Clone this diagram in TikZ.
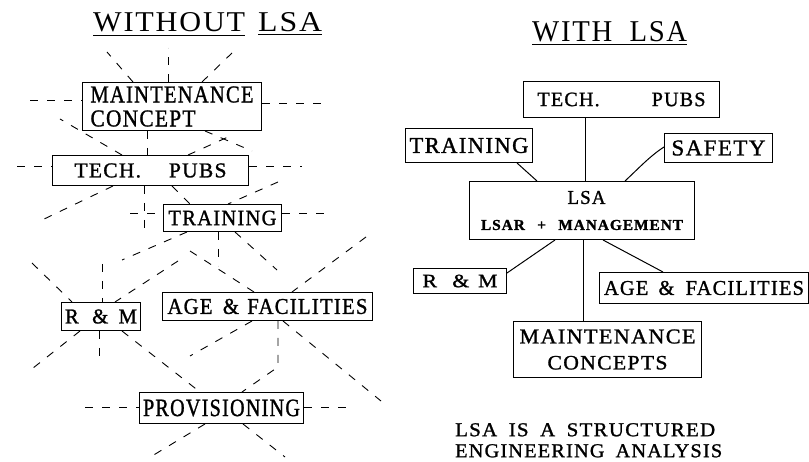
\documentclass[tikz,border=0pt]{standalone}
\usepackage{fontspec}
\usepackage{graphicx}
\newfontfamily\lblfont[LetterSpace=6, FakeBold=1.2]{Liberation Serif}
\newfontfamily\headfont[LetterSpace=6]{Liberation Serif}
% label text scaled to a given width and cap height (both in pt)
\newcommand\fitlbl[3]{\resizebox{#1pt}{#2pt}{\lblfont #3}}
\newcommand\fithead[3]{\resizebox{#1pt}{#2pt}{\headfont #3}}

\tikzset{
  box/.style={draw, line width=1pt, inner sep=0pt, anchor=north west, align=center},
  ray/.style={line width=0.9pt, dash pattern=on 8pt off 9pt},
  link/.style={line width=1pt},
  ttl/.style={inner sep=0pt, anchor=base west},
  uline/.style={line width=1pt},
}

\begin{document}
\begin{tikzpicture}[x=1pt, y=-1pt]
\fill[white] (0,0) rectangle (809,462);
\path[use as bounding box] (0,0) rectangle (809,462);

% ---------- left panel: without LSA ----------
\node[ttl] (tA) at (93,32) {\fithead{152}{19}{WITHOUT}};
\node[ttl] (tB) at (258,32) {\fithead{64}{19}{LSA}};
\draw[uline] ([yshift=-2.5pt]tA.south west) -- ([yshift=-2.5pt]tA.south east);
\draw[uline] ([yshift=-2.5pt]tB.south west) -- ([yshift=-2.5pt]tB.south east);

\node[box, minimum width=179pt, minimum height=48pt, align=left,
      font=\fontsize{20}{24}\selectfont] (mc) at (82,82)
  {\fitlbl{163}{16}{MAINTENANCE}\\\fitlbl{105}{16}{CONCEPT}};
\node[box, minimum width=196pt, minimum height=30pt] (tp1) at (52,155)
  {\fitlbl{152}{14}{TECH.\hspace{1.3em}PUBS}};
\node[box, minimum width=118pt, minimum height=27pt] (tr1) at (163,204)
  {\fitlbl{108}{14.5}{TRAINING}};
\node[box, minimum width=79pt, minimum height=28pt] (rm1) at (61,302)
  {\fitlbl{72}{14}{R\hspace{.65em}\&\hspace{.5em}M}};
\node[box, minimum width=210pt, minimum height=28pt] (af1) at (162,292)
  {\fitlbl{200}{15}{AGE\hspace{.5em}\&\hspace{.4em}FACILITIES}};
\node[box, minimum width=164pt, minimum height=31pt] (pv1) at (139,392)
  {\fitlbl{157}{16.5}{PROVISIONING}};

% free ends of the dashed rays
\coordinate (r1) at (107,52);
\coordinate (r2) at (168,48);
\coordinate (r3) at (232,53);
\coordinate (r4) at (30,100);
\coordinate (r5) at (323,103);
\coordinate (r6) at (60,119);
\coordinate (r8) at (252,151);
\coordinate (r9) at (228,137);
\coordinate (r10) at (17,166);
\coordinate (r11) at (302,166);
\coordinate (r12) at (40,221);
\coordinate (r13) at (144,234);
\coordinate (r15) at (278,182);
\coordinate (r16) at (130,213);
\coordinate (r17) at (330,213);
\coordinate (r18) at (122,260);
\coordinate (r19) at (190,251);
\coordinate (r20) at (218,266);
\coordinate (r21) at (277,270);
\coordinate (r22) at (366,237);
\coordinate (r23) at (178,261);
\coordinate (r24) at (32,263);
\coordinate (r25) at (102,264);
\coordinate (r26) at (28,372);
\coordinate (r27) at (99,363);
\coordinate (r29) at (190,356);
\coordinate (k30) at (278,367);
\coordinate (r31) at (381,401);
\coordinate (r32) at (85,407);
\coordinate (r33) at (352,407);
\coordinate (r34) at (152,456);
\coordinate (r35) at (285,457);

% rays around the maintenance concept
\draw[ray] ([xshift=51pt]mc.north west) -- (r1);
\draw[ray] ([xshift=86pt]mc.north west) -- (r2);
\draw[ray] ([xshift=120pt]mc.north west) -- (r3);
\draw[ray] (r4) -- ([yshift=-18pt]mc.north west);
\draw[ray] ([yshift=-21pt]mc.north east) -- (r5);
\draw[ray] ([xshift=65pt]mc.south west) -- ([xshift=95pt]tp1.north west);
\draw[ray] ([xshift=123pt]mc.south west) -- (r8);

% rays around tech. pubs
\draw[ray] ([xshift=70pt]tp1.north west) -- (r6);
\draw[ray] ([xshift=136pt]tp1.north west) -- (r9);
\draw[ray] (r10) -- ([yshift=-11pt]tp1.north west);
\draw[ray] ([yshift=-11pt]tp1.north east) -- (r11);
\draw[ray] ([xshift=61pt]tp1.south west) -- (r12);
\draw[ray] ([xshift=92pt]tp1.south west) -- (r13);
\draw[ray] ([xshift=120pt]tp1.south west) -- ([xshift=27pt]tr1.north west);

% rays around training
\draw[ray] (r15) -- ([xshift=65pt]tr1.north west);
\draw[ray] (r16) -- ([yshift=-9pt]tr1.north west);
\draw[ray] ([yshift=-9pt]tr1.north east) -- (r17);
\draw[ray] ([xshift=24pt]tr1.south west) -- (r18);
\draw[ray] ([xshift=55pt]tr1.south west) -- (r20);
\draw[ray] ([xshift=72pt]tr1.south west) -- (r21);

% rays around age & facilities
\draw[ray] (r19) -- ([xshift=92pt]af1.north west);
\draw[ray] (r22) -- ([xshift=130pt]af1.north west);
\draw[ray] ([xshift=90pt]af1.south west) -- (r29);
\draw[ray] ([xshift=116pt]af1.south west) -- (k30) -- ([xshift=103pt]pv1.north west);
\draw[ray] ([xshift=121pt]af1.south west) -- (r31);

% rays around r & m
\draw[ray] (r23) -- ([xshift=54pt]rm1.north west);
\draw[ray] (r24) -- ([xshift=11pt]rm1.north west);
\draw[ray] (r25) -- ([xshift=41pt]rm1.north west);
\draw[ray] ([xshift=19pt]rm1.south west) -- (r26);
\draw[ray] ([xshift=38pt]rm1.south west) -- (r27);
\draw[ray] ([xshift=61pt]rm1.south west) -- ([xshift=61pt]pv1.north west);

% rays around provisioning
\draw[ray] (r32) -- ([yshift=-15pt]pv1.north west);
\draw[ray] ([yshift=-15pt]pv1.north east) -- (r33);
\draw[ray] ([xshift=66pt]pv1.south west) -- (r34);
\draw[ray] ([xshift=104pt]pv1.south west) -- (r35);

% ---------- right panel: with LSA ----------
\node[ttl] (tC) at (532,42) {\fithead{155}{20}{WITH\hspace{.6em}LSA}};
\draw[uline] ([yshift=-2pt]tC.south west) -- ([yshift=-2pt]tC.south east);

\node[box, minimum width=196pt, minimum height=36pt] (tp2) at (523,81)
  {\fitlbl{168}{13.5}{TECH.\hspace{2.6em}PUBS}};
\node[box, minimum width=127pt, minimum height=34pt] (tr2) at (405,128)
  {\fitlbl{119}{15}{TRAINING}};
\node[box, minimum width=108pt, minimum height=29pt] (sf2) at (664,133)
  {\fitlbl{94}{15}{SAFETY}};
\node[box, minimum width=225pt, minimum height=58pt,
      font=\fontsize{20}{26}\selectfont] (lsa) at (469,181)
  {\hspace{9pt}\fitlbl{38}{13}{LSA}\\\fitlbl{202}{10}{\bfseries LSAR\hspace{.8em}+\hspace{.8em}MANAGEMENT}};
\node[box, minimum width=93pt, minimum height=25pt] (rm2) at (413,268)
  {\fitlbl{75}{12.5}{R\hspace{.7em}\&\hspace{.4em}M}};
\node[box, minimum width=209pt, minimum height=31pt] (af2) at (599,272)
  {\fitlbl{200}{14}{AGE\hspace{.5em}\&\hspace{.55em}FACILITIES}};
\node[box, minimum width=188pt, minimum height=56pt,
      font=\fontsize{20}{26}\selectfont] (mc2) at (513,321)
  {\fitlbl{176}{14}{MAINTENANCE}\\\fitlbl{120}{13.5}{CONCEPTS}};

\draw[link] ([xshift=62pt]tp2.south west) -- ([xshift=116pt]lsa.north west);
\draw[link] ([xshift=112pt]tr2.south west) -- ([xshift=68pt]lsa.north west);
\draw[link] ([yshift=-14pt]sf2.north west) .. controls (650,156) and (639,168) .. ([xshift=156pt]lsa.north west);
\draw[link] ([xshift=86pt]lsa.south west) -- ([yshift=-5pt]rm2.north east);
\draw[link] ([xshift=114pt]lsa.south west) -- ([xshift=70pt]mc2.north west);
\draw[link] ([xshift=134pt]lsa.south west) -- ([xshift=64pt]af2.north west);

\node[inner sep=0pt, anchor=north west, align=left,
      font=\fontsize{20}{21}\selectfont] (stmt) at (455,423)
  {\fitlbl{260}{13}{LSA\hspace{.55em}IS\hspace{.55em}A\hspace{.55em}STRUCTURED}\\
   \fitlbl{267}{13}{ENGINEERING\hspace{.55em}ANALYSIS}};
\end{tikzpicture}
\end{document}
